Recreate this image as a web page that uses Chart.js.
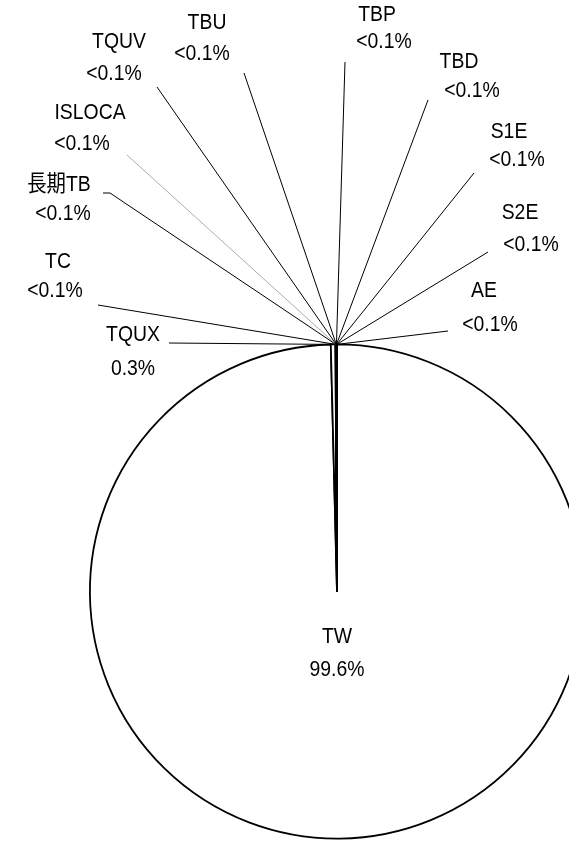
<!DOCTYPE html>
<html>
<head>
<meta charset="UTF-8">
<title>TW share</title>
<script src="https://cdn.jsdelivr.net/npm/chart.js@4.4.0/dist/chart.umd.min.js"></script>
<style>
  html, body { margin: 0; padding: 0; background: #fff; overflow: hidden; }
  #wrap { width: 620px; height: 842px; }
</style>
</head>
<body>
<div id="wrap"><canvas id="pie"></canvas></div>
<script>
// slices, clockwise from 12 o'clock
var categories = ['TW', 'TQUX', 'TC', '長期TB', 'ISLOCA', 'TQUV', 'TBU', 'TBP', 'TBD', 'S1E', 'S2E', 'AE'];
var shares = [99.6, 0.3, 0.02, 0.015, 0.005, 0.01, 0.01, 0.008, 0.007, 0.01, 0.008, 0.007];

// callout layout for the small slices: leader end, optional tail, name / value centres
var calloutEnd = [null, [169, 343], [98, 305], [110, 193], [127, 155], [157, 87], [244, 73], [345, 62], [428, 100], [474, 173], [488, 252], [448, 331]];
var calloutTail = [null, null, null, 103, null, null, null, null, null, null, null, null];
var nameAt = [null, [133, 335], [58, 262], [59, 185], [90, 113], [119, 42], [207, 23], [377, 15], [459, 62], [509, 132], [520, 213], [484, 291]];
var valueAt = [null, [133, 369], [55, 291], [63, 214], [82, 144], [114, 74], [202, 54], [384, 42], [472, 91], [517, 160], [531, 245], [490, 325]];

var FONT = '20px "Liberation Sans", Arial, "Noto Sans CJK JP", sans-serif';

function shareText(v) {
    return v < 0.1 ? '<0.1%' : v.toFixed(1) + '%';
}

// the source font is a bit taller and narrower than Liberation Sans
function drawText(ctx, txt, x, y) {
    ctx.save();
    ctx.translate(x, y);
    ctx.scale(0.97, 1.12);
    ctx.fillText(txt, 0, 0);
    ctx.restore();
}

var callouts = {
    id: 'callouts',
    afterDraw: function (chart) {
        var ctx = chart.ctx;
        var arcs = chart.getDatasetMeta(0).data;
        ctx.save();
        ctx.font = FONT;
        ctx.fillStyle = '#000';
        ctx.textAlign = 'center';
        ctx.textBaseline = 'middle';

        // big slice label sits under the centre
        var a0 = arcs[0];
        drawText(ctx, categories[0], a0.x, a0.y + 45);
        drawText(ctx, shareText(shares[0]), a0.x, a0.y + 78);

        for (var i = 1; i < arcs.length; i++) {
            var a = arcs[i];
            var mid = (a.startAngle + a.endAngle) / 2;
            var px = a.x + Math.cos(mid) * a.outerRadius;
            var py = a.y + Math.sin(mid) * a.outerRadius;
            var end = calloutEnd[i];

            ctx.beginPath();
            ctx.strokeStyle = categories[i] === 'ISLOCA' ? '#888' : '#000';
            ctx.lineWidth = categories[i] === 'ISLOCA' ? 0.7 : 1;
            ctx.moveTo(px, py);
            ctx.lineTo(end[0], end[1]);
            if (calloutTail[i] !== null) ctx.lineTo(calloutTail[i], end[1]);
            ctx.stroke();

            drawText(ctx, categories[i], nameAt[i][0], nameAt[i][1]);
            drawText(ctx, shareText(shares[i]), valueAt[i][0], valueAt[i][1]);
        }
        ctx.restore();
    }
};

window.onload = function () {
    new Chart(document.getElementById('pie').getContext('2d'), {
        type: 'pie',
        data: {
            labels: categories,
            datasets: [{
                data: shares,
                backgroundColor: '#fff',
                borderColor: '#000',
                borderWidth: 1.8,
                hoverOffset: 0
            }]
        },
        options: {
            responsive: true,
            maintainAspectRatio: false,
            animation: false,
            events: [],
            layout: { padding: { left: 89, right: 35, top: 343, bottom: 2 } },
            plugins: {
                legend: { display: false },
                tooltip: { enabled: false }
            }
        },
        plugins: [callouts]
    });
};
</script>
</body>
</html>
